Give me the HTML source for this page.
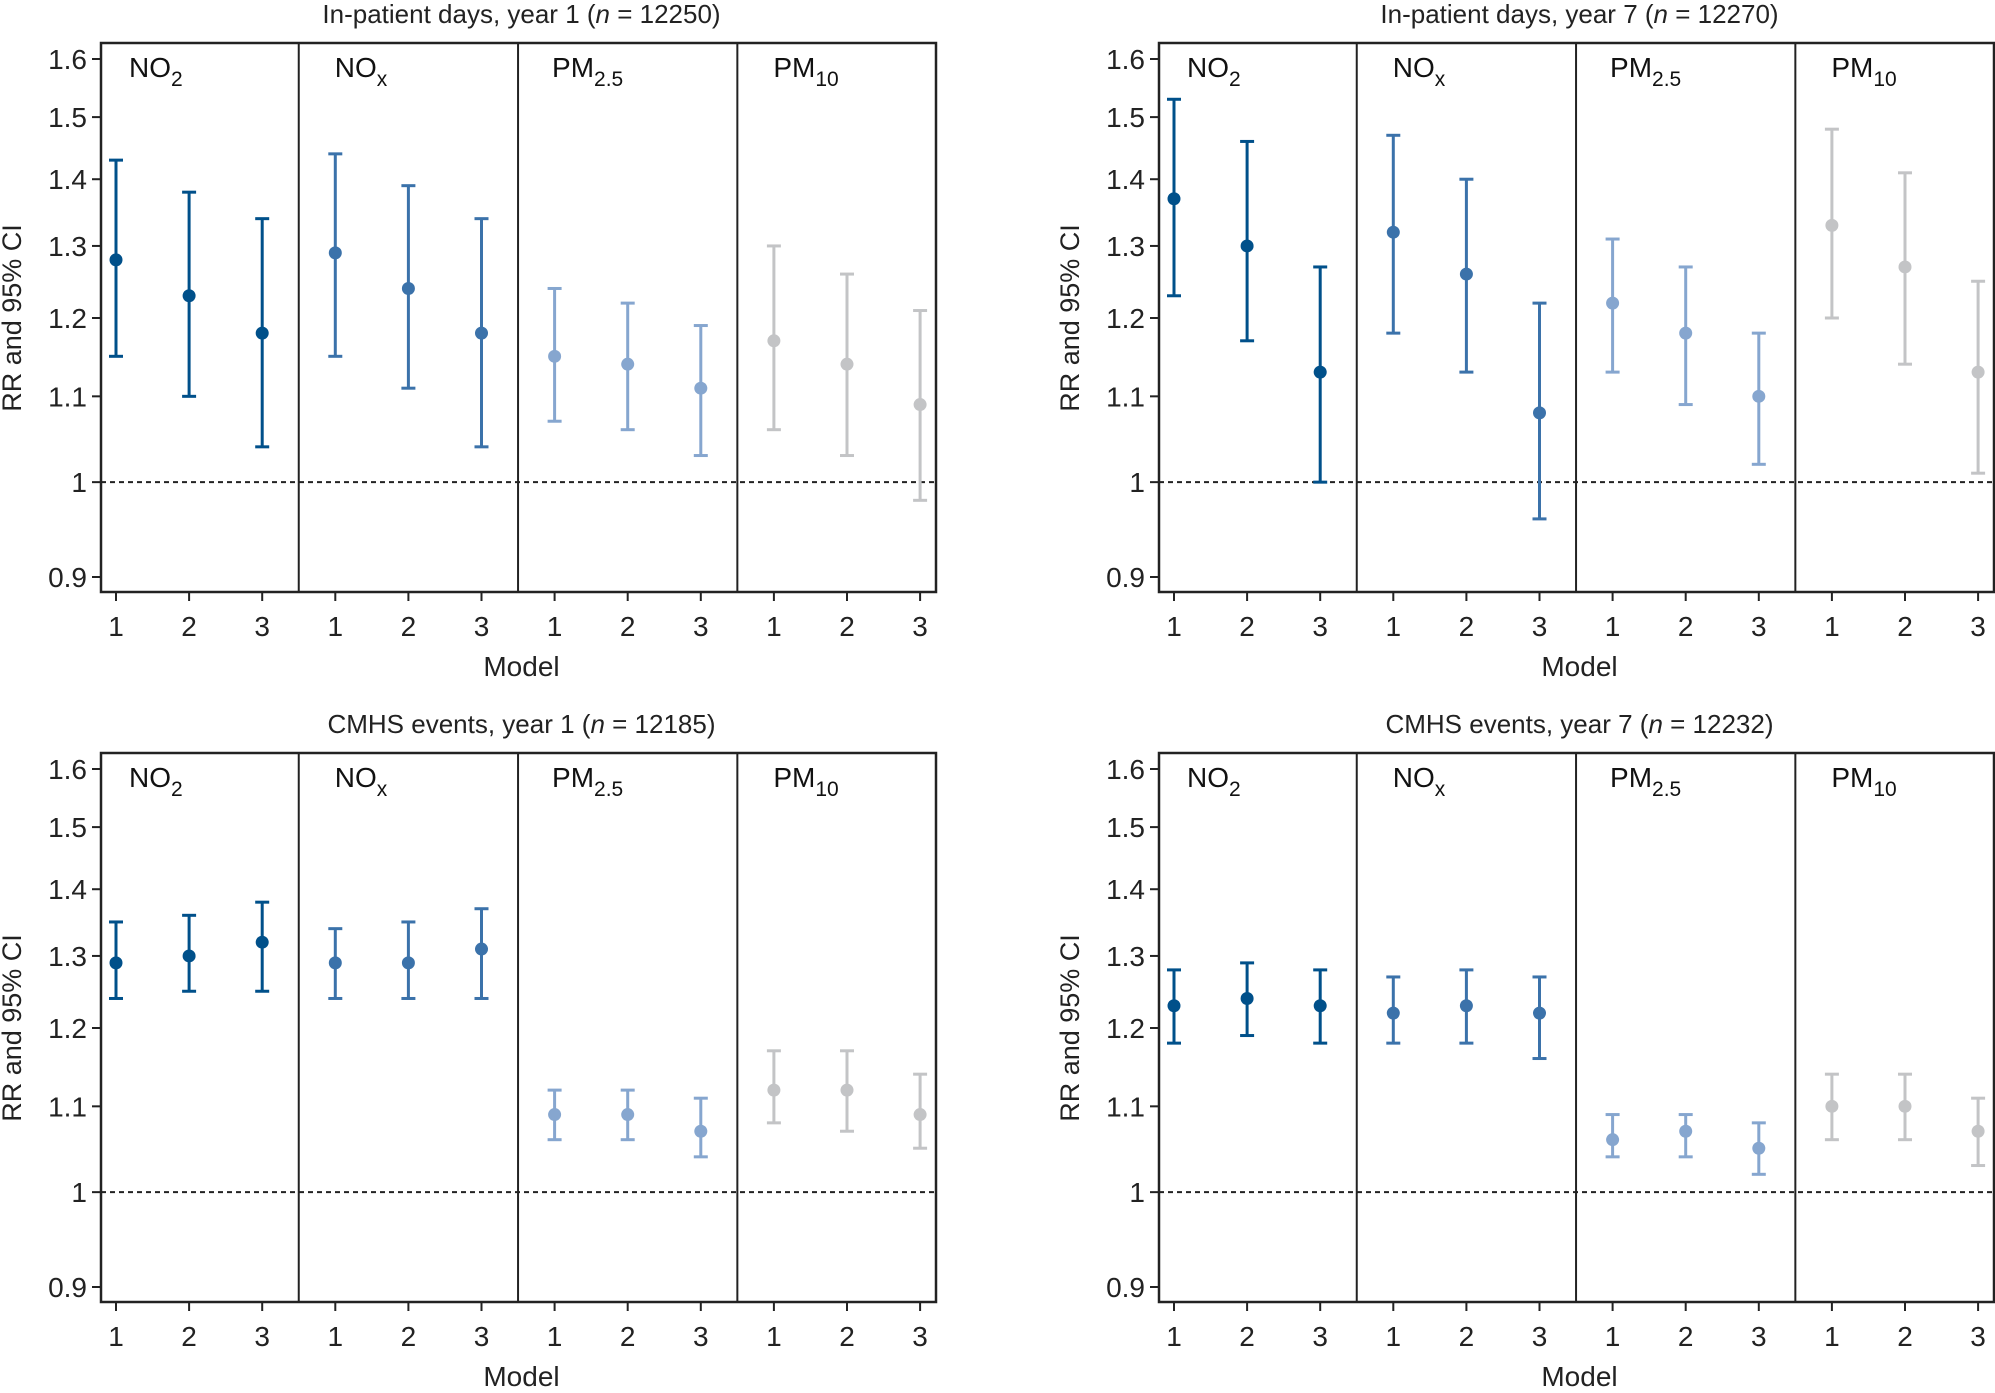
<!DOCTYPE html>
<html><head><meta charset="utf-8"><style>
html,body{margin:0;padding:0;background:#fff;}
svg{display:block;font-family:"Liberation Sans",sans-serif;}
</style></head><body>
<svg id="chart" width="1995" height="1393" viewBox="0 0 1995 1393" xmlns="http://www.w3.org/2000/svg"></svg>
<script>
const panelTitles = ["In-patient days, year 1", "In-patient days, year 7", "CMHS events, year 1", "CMHS events, year 7"];
const panelNs = ["12250", "12270", "12185", "12232"];
const pollutants = ["NO2", "NOx", "PM2.5", "PM10"];
const models = ["1", "2", "3"];
const yTicks = [0.9, 1, 1.1, 1.2, 1.3, 1.4, 1.5, 1.6];
const yTickLabels = ["0.9", "1", "1.1", "1.2", "1.3", "1.4", "1.5", "1.6"];
const est = [
  [1.28,1.23,1.18, 1.29,1.24,1.18, 1.15,1.14,1.11, 1.17,1.14,1.09],
  [1.37,1.30,1.13, 1.32,1.26,1.08, 1.22,1.18,1.10, 1.33,1.27,1.13],
  [1.29,1.30,1.32, 1.29,1.29,1.31, 1.09,1.09,1.07, 1.12,1.12,1.09],
  [1.23,1.24,1.23, 1.22,1.23,1.22, 1.06,1.07,1.05, 1.10,1.10,1.07]
];
const lower = [
  [1.15,1.10,1.04, 1.15,1.11,1.04, 1.07,1.06,1.03, 1.06,1.03,0.98],
  [1.23,1.17,1.00, 1.18,1.13,0.96, 1.13,1.09,1.02, 1.20,1.14,1.01],
  [1.24,1.25,1.25, 1.24,1.24,1.24, 1.06,1.06,1.04, 1.08,1.07,1.05],
  [1.18,1.19,1.18, 1.18,1.18,1.16, 1.04,1.04,1.02, 1.06,1.06,1.03]
];
const upper = [
  [1.43,1.38,1.34, 1.44,1.39,1.34, 1.24,1.22,1.19, 1.30,1.26,1.21],
  [1.53,1.46,1.27, 1.47,1.40,1.22, 1.31,1.27,1.18, 1.48,1.41,1.25],
  [1.35,1.36,1.38, 1.34,1.35,1.37, 1.12,1.12,1.11, 1.17,1.17,1.14],
  [1.28,1.29,1.28, 1.27,1.28,1.27, 1.09,1.09,1.08, 1.14,1.14,1.11]
];
const colors = ["#00508a", "#3b72aa", "#86a6cf", "#c3c4c6"];

const NS = "http://www.w3.org/2000/svg";
const svg = document.getElementById("chart");
function el(tag, attrs, parent, text) {
  const e = document.createElementNS(NS, tag);
  for (const k in attrs) e.setAttribute(k, attrs[k]);
  if (text !== undefined) e.textContent = text;
  (parent || svg).appendChild(e);
  return e;
}
const origins = [[101, 0], [1159, 0], [101, 710], [1159, 710]];
const W = 835, STEP = 73.1, X0 = 15;
function yScale(v, oy) {
  const top = 59 + oy, bot = 577 + oy;
  return bot - (Math.log(v) - Math.log(0.9)) / (Math.log(1.6) - Math.log(0.9)) * (bot - top);
}
function xScale(i, ox) { return ox + X0 + STEP * i; }

for (let p = 0; p < 4; p++) {
  const [ox, oy] = origins[p];
  const g = el("g", {});
  
  
  const top = 43 + oy, bot = 592 + oy;
  const t = el("text", {x: ox + W / 2 + 3, y: 23 + oy, "text-anchor": "middle", "font-size": 26, fill: "#222"}, g);
  
  
  el("tspan", {}, t, panelTitles[p] + " (");
  el("tspan", {"font-style": "italic"}, t, "n");
  el("tspan", {}, t, " = " + panelNs[p] + ")");
  const ref = el("line", {x1: ox, x2: ox + W, y1: yScale(1, oy), y2: yScale(1, oy), stroke: "#222", "stroke-width": 2, "stroke-dasharray": "5,4"}, g);
  
  
  for (let d = 1; d < 4; d++) {
    const x = xScale(d * 3 - 0.5, ox);
    const dl = el("line", {x1: x, x2: x, y1: top, y2: bot, stroke: "#222", "stroke-width": 2}, g);
    
    
  }
  const fr = el("rect", {x: ox, y: top, width: W, height: bot - top, fill: "none", stroke: "#222", "stroke-width": 2.5}, g);
  
  
  for (let i = 0; i < yTicks.length; i++) {
    const y = yScale(yTicks[i], oy);
    el("line", {x1: ox - 9, x2: ox, y1: y, y2: y, stroke: "#222", "stroke-width": 2}, g);
    const tl = el("text", {x: ox - 14, y: y + 10, "text-anchor": "end", "font-size": 28, fill: "#222"}, g, yTickLabels[i]);
    
    
  }
  const yl = el("text", {x: 0, y: 0, "text-anchor": "middle", "font-size": 27, fill: "#222", transform: `translate(${ox - 80},${318 + oy}) rotate(-90)`}, g, "RR and 95% CI");
  
  
  const lblX = [28, 36, 34, 36];
  const mains = ["NO", "NO", "PM", "PM"], subs = ["2", "x", "2.5", "10"];
  for (let k = 0; k < 4; k++) {
    const gx = k === 0 ? ox : xScale(k * 3 - 0.5, ox);
    const lt = el("text", {x: gx + lblX[k], y: 77 + oy, "font-size": 28, fill: "#111"}, g);
    
    
    el("tspan", {}, lt, mains[k]);
    el("tspan", {"font-size": 21, dy: 9}, lt, subs[k]);
  }
  for (let i = 0; i < 12; i++) {
    const x = xScale(i, ox);
    el("line", {x1: x, x2: x, y1: bot, y2: bot + 9, stroke: "#222", "stroke-width": 2}, g);
    const xl = el("text", {x: x, y: 636 + oy, "text-anchor": "middle", "font-size": 28, fill: "#222"}, g, models[i % 3]);
    
    
    const c = colors[Math.floor(i / 3)];
    const yl1 = yScale(lower[p][i], oy), yu = yScale(upper[p][i], oy), ye = yScale(est[p][i], oy);
    const eb = el("g", {}, g);
    
    
    el("line", {x1: x, x2: x, y1: yu, y2: yl1, stroke: c, "stroke-width": 3}, eb);
    el("line", {x1: x - 7, x2: x + 7, y1: yu, y2: yu, stroke: c, "stroke-width": 3}, eb);
    el("line", {x1: x - 7, x2: x + 7, y1: yl1, y2: yl1, stroke: c, "stroke-width": 3}, eb);
    const pt = el("circle", {cx: x, cy: ye, r: 6.5, fill: c}, g);
    
    
  }
  const xt = el("text", {x: ox + W / 2 + 3, y: 676 + oy, "text-anchor": "middle", "font-size": 28, fill: "#222"}, g, "Model");
  
  
}
</script>
</body></html>
